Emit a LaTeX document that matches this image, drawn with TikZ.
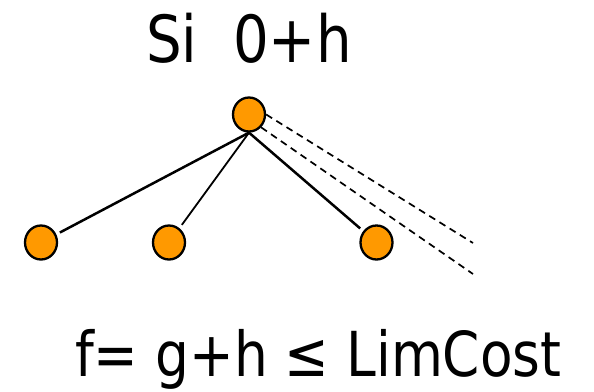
\documentclass[tikz,border=0pt]{standalone}
\usepackage{fontspec}
\setmainfont{DejaVu Sans}
\usetikzlibrary{shapes.geometric}
\definecolor{nodeorange}{RGB}{255,153,0}
\begin{document}
\begin{tikzpicture}[x=1pt,y=-1pt,
  treenode/.style={draw=black,line width=2.3pt,fill=nodeorange,ellipse,minimum width=32pt,minimum height=34pt,inner sep=0pt},
  edge/.style={line width=2.5pt,shorten >=4pt},
  thinedge/.style={line width=1.8pt,shorten >=4pt},
  pruned/.style={line width=1.7pt,dash pattern=on 7pt off 5pt},
  label/.style={inner sep=0pt,anchor=base west,font=\fontsize{65}{70}\selectfont},
  formulalabel/.style={inner sep=0pt,anchor=base west,font=\fontsize{62}{66}\selectfont}
]
\useasboundingbox (0,0) rectangle (594,391);
\node[label] (title) at (146,62) {\scalebox{0.865}[1]{Si\ \ 0+h}};
\node[formulalabel] (formula) at (75,376) {\scalebox{0.86}[1]{f= g+h ≤ LimCost}};
\node[treenode] (root) at (249,114.5) {};
\node[treenode] (l) at (41,242.5) {};
\node[treenode] (m) at (169,242.5) {};
\node[treenode] (r) at (376.5,242.5) {};
\coordinate (d1) at (473,243);
\coordinate (d2) at (473,274);
\draw[edge] (root.south) -- (l);
\draw[thinedge] (root.south) -- (m);
\draw[edge] (root.south) -- (r);
\draw[pruned] (root.east) -- (d1);
\draw[pruned] (root.south east) -- (d2);
\end{tikzpicture}
\end{document}
